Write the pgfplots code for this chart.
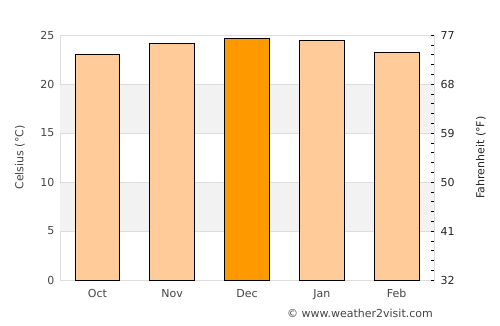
\documentclass[border=0pt]{standalone}
\usepackage{pgfplots}
\pgfplotsset{compat=1.18}
\usepackage{fontspec}
\setmainfont{DejaVu Sans}
\definecolor{peach}{HTML}{FFCC99}
\definecolor{orng}{HTML}{FF9900}
\definecolor{gridc}{HTML}{DDDDDD}
\definecolor{band}{HTML}{F2F2F2}
\definecolor{txt}{HTML}{444444}
\begin{document}
\begin{tikzpicture}
\path[use as bounding box] (-60pt,-45pt) rectangle (440pt,280pt);
\begin{axis}[
  at={(0pt,0pt)}, anchor=south west,
  width=374pt, height=245pt, scale only axis,
  xmin=-0.5, xmax=4.5, ymin=0, ymax=25,
  xtick={0,1,2,3,4}, xticklabels={Oct,Nov,Dec,Jan,Feb},
  ytick={0,5,10,15,20,25},
  axis line style={draw=gridc},
  major tick length=0pt,
  tick label style={font=\fontsize{11}{13}\selectfont, text=txt},
  xticklabel style={yshift=-6pt},
  yticklabel style={xshift=-2pt},
  /pgf/number format/assume math mode=true,
  ylabel={Celsius (°C)},
  ylabel style={font=\fontsize{11}{13}\selectfont, text=txt, at={(axis description cs:-0.107,0.5)}, anchor=center, rotate=0},
  clip=false,
]
\fill[band] (axis cs:-0.5,5) rectangle (axis cs:4.5,10);
\fill[band] (axis cs:-0.5,15) rectangle (axis cs:4.5,20);
\draw[gridc] (axis cs:-0.5,5) -- (axis cs:4.5,5);
\draw[gridc] (axis cs:-0.5,10) -- (axis cs:4.5,10);
\draw[gridc] (axis cs:-0.5,15) -- (axis cs:4.5,15);
\draw[gridc] (axis cs:-0.5,20) -- (axis cs:4.5,20);
\addplot[ybar, bar shift=0pt, bar width=44.9pt, fill=peach, draw=black, line width=0.8pt]
  coordinates {(0,23.0) (1,24.1) (3,24.4) (4,23.2)};
\addplot[ybar, bar shift=0pt, bar width=44.9pt, fill=orng, draw=black, line width=0.8pt]
  coordinates {(2,24.7)};
\node[font=\fontsize{11}{13}\selectfont, text=txt] at (rel axis cs:0.802,-0.1347) {© www.weather2visit.com};
\end{axis}
\begin{axis}[
  at={(0pt,0pt)}, anchor=south west,
  width=374pt, height=245pt, scale only axis,
  xmin=-0.5, xmax=4.5, ymin=32, ymax=77,
  axis x line=none, axis y line*=right,
  axis line style={draw=gridc},
  ytick={32,41,50,59,68,77},
  minor ytick={33.8,35.6,37.4,39.2,42.8,44.6,46.4,48.2,51.8,53.6,55.4,57.2,60.8,62.6,64.4,66.2,69.8,71.6,73.4,75.2},
  tick align=inside, major tick length=3pt, minor tick length=3pt,
  tick style={draw=black, line width=0.6pt},
  tick label style={font=\fontsize{11}{13}\selectfont, text=black!85},
  yticklabel style={xshift=3pt},
  /pgf/number format/assume math mode=true,
  ylabel={Fahrenheit (°F)},
  ylabel style={font=\fontsize{11}{13}\selectfont, text=black!85, at={(axis description cs:1.1257,0.5)}, anchor=center},
]
\end{axis}
\end{tikzpicture}
\end{document}
